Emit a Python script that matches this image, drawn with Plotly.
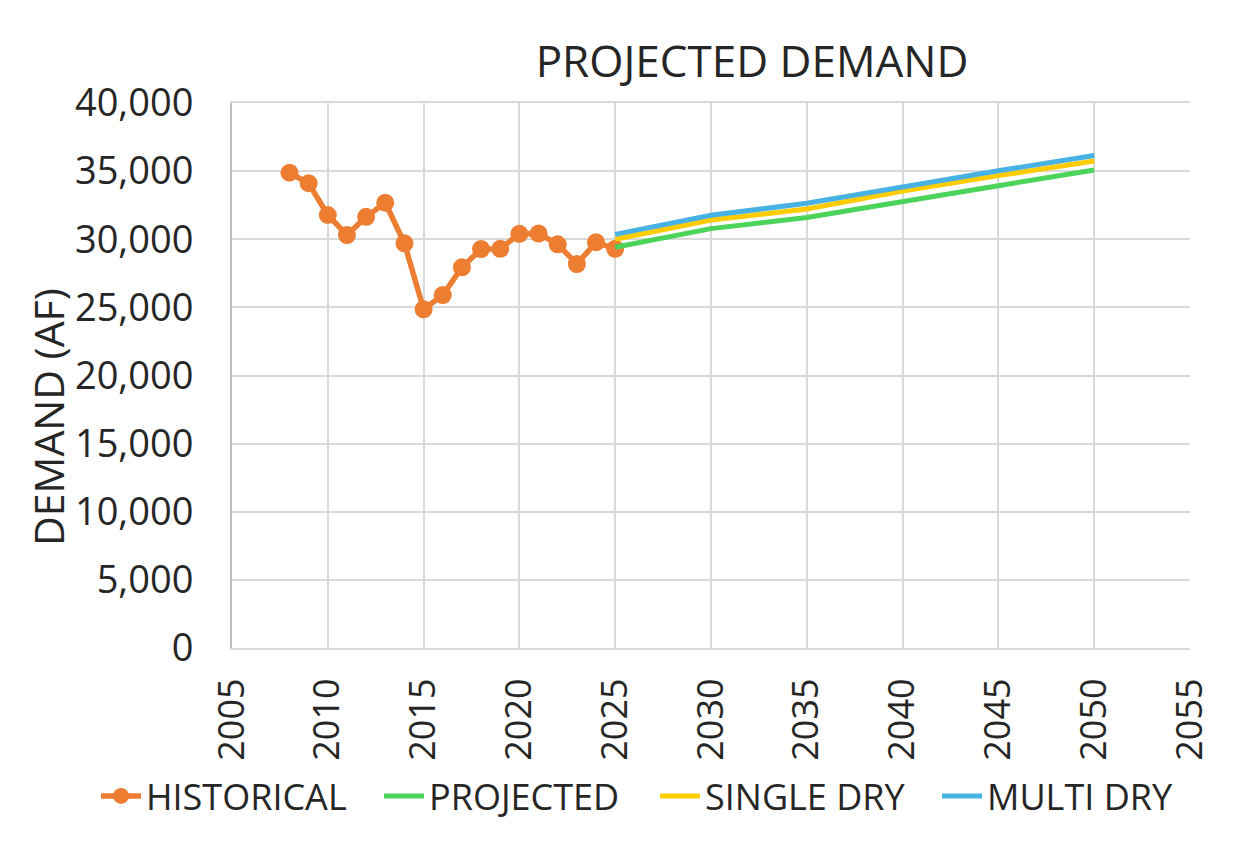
import plotly.graph_objects as go

hist_years = [2008, 2009, 2010, 2011, 2012, 2013, 2014, 2015, 2016, 2017,
              2018, 2019, 2020, 2021, 2022, 2023, 2024, 2025]
hist_values = [34880, 34110, 31780, 30310, 31650, 32680, 29700, 24860, 25900, 27940,
               29280, 29300, 30400, 30420, 29630, 28180, 29780, 29300]

proj_years = [2025, 2030, 2035, 2040, 2045, 2050]
projected = [29410, 30780, 31600, 32800, 33930, 35080]
single_dry = [30000, 31410, 32220, 33540, 34670, 35740]
multi_dry = [30360, 31760, 32640, 33860, 35030, 36150]

x_ticks = [2005, 2010, 2015, 2020, 2025, 2030, 2035, 2040, 2045, 2050, 2055]
y_ticks = [0, 5000, 10000, 15000, 20000, 25000, 30000, 35000, 40000]

FONT = "Open Sans"
TXT = "#262626"

# page has an 8px body margin; figure sized so the page doesn't overflow
OFF = 8
W, H = 1232, 830
L, T = 232 - OFF, 103 - OFF
R = W - (1190 - OFF)
B = H - (648 - OFF)
PW, PH = W - L - R, H - T - B

fig = go.Figure()
fig.add_trace(go.Scatter(x=hist_years, y=hist_values, name="HISTORICAL",
                         mode="lines+markers", legend="legend",
                         line=dict(color="#ED7D31", width=5.5),
                         marker=dict(color="#ED7D31", size=18)))
fig.add_trace(go.Scatter(x=proj_years, y=projected, name="PROJECTED", mode="lines",
                         legend="legend2",
                         line=dict(color="#4CD35A", width=5)))
fig.add_trace(go.Scatter(x=proj_years, y=single_dry, name="SINGLE DRY", mode="lines",
                         legend="legend3",
                         line=dict(color="#FFCC00", width=5)))
fig.add_trace(go.Scatter(x=proj_years, y=multi_dry, name="MULTI DRY", mode="lines",
                         legend="legend4",
                         line=dict(color="#47B2E3", width=5)))

LEG_Y = 1 - (796 - OFF) / H
TEXT_OFF = 51


def leg(text_start):
    return dict(orientation="h", xref="container", yref="container",
                x=(text_start - TEXT_OFF - OFF) / W, xanchor="left",
                y=LEG_Y, yanchor="middle", font=dict(size=36),
                itemwidth=40, bgcolor="rgba(0,0,0,0)")


fig.update_layout(
    width=W, height=H,
    margin=dict(l=L, r=R, t=T, b=B, autoexpand=False),
    paper_bgcolor="white", plot_bgcolor="white",
    font=dict(family=FONT, color=TXT, size=32),
    title=dict(text="PROJECTED DEMAND", font=dict(size=44, family=FONT, color=TXT),
               x=(752 - OFF) / W, xanchor="center", xref="container",
               y=1 - (62 - OFF) / H, yanchor="middle", yref="container"),
    xaxis=dict(range=[2005, 2055], tickvals=x_ticks, tickangle=-90,
               showgrid=True, gridcolor="#D9D9D9", gridwidth=2,
               showline=True, linecolor="#D9D9D9", linewidth=2, mirror=True,
               zeroline=False, ticks="", tickfont=dict(size=36),
               ticklabelstandoff=14, automargin=False),
    yaxis=dict(range=[0, 40000], tickvals=y_ticks, tickformat=",",
               showgrid=True, gridcolor="#D9D9D9", gridwidth=2,
               showline=True, linecolor="#BFBFBF", linewidth=2,
               zeroline=False, ticks="", tickfont=dict(size=38),
               ticklabelstandoff=29, automargin=False),
    legend=leg(147),
    legend2=leg(430),
    legend3=leg(706),
    legend4=leg(988),
    showlegend=True,
)

fig.add_annotation(text="DEMAND (AF)", textangle=-90, showarrow=False,
                   xref="paper", yref="paper",
                   x=(48 - OFF - L) / PW, y=(648 - 417) / PH,
                   xanchor="center", yanchor="middle",
                   font=dict(size=41, family=FONT, color=TXT))

fig.write_html("out.html")
